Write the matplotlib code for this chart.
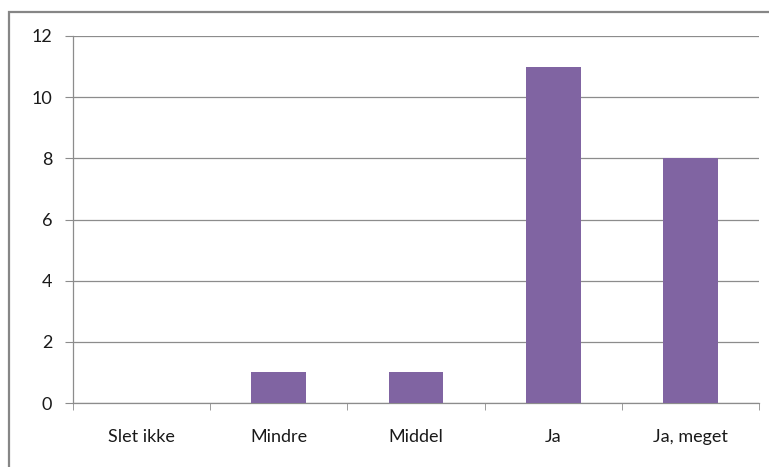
import matplotlib.pyplot as plt
from matplotlib.patches import Rectangle

categories = ["Slet ikke", "Mindre", "Middel", "Ja", "Ja, meget"]
values = [0, 1, 1, 11, 8]
yticks = [0, 2, 4, 6, 8, 10, 12]

plt.rcParams['font.family'] = ['Lato', 'DejaVu Sans']

fig = plt.figure(figsize=(7.69, 4.67), dpi=100)
W, H = 769, 467

# outer chart border (cropped on right and bottom)
fig.patches.append(Rectangle((9 / W, -0.05), 1.1, 1 - 12 / H + 0.05,
                             transform=fig.transFigure, fill=False,
                             edgecolor='#868686', linewidth=1.6))

ax = fig.add_axes([73 / W, 1 - 403 / H, (759 - 73) / W, (403 - 36) / H])

x = range(len(categories))
ax.bar(x, values, width=0.4, color='#8064A2', zorder=3)

ax.set_xlim(-0.5, len(categories) - 0.5)
ax.set_ylim(0, 12)
ax.set_yticks(yticks)
ax.yaxis.grid(True, color='#8c8c8c', linewidth=0.9)
ax.set_axisbelow(True)

ax.set_xticks(list(x))
ax.set_xticklabels(categories, fontsize=13, color='#1a1a1a')
ax.set_xticks([i - 0.5 for i in range(len(categories) + 1)], minor=True)
ax.tick_params(axis='x', which='major', length=0, pad=19)
ax.tick_params(axis='x', which='minor', length=5, color='#8c8c8c', direction='out')
ax.tick_params(axis='y', length=6, color='#8c8c8c', labelsize=13,
               labelcolor='#1a1a1a', pad=9)

for s in ['top', 'right']:
    ax.spines[s].set_visible(False)
for s in ['left', 'bottom']:
    ax.spines[s].set_color('#8c8c8c')
    ax.spines[s].set_linewidth(0.9)

fig.savefig('out.png', dpi=100)
